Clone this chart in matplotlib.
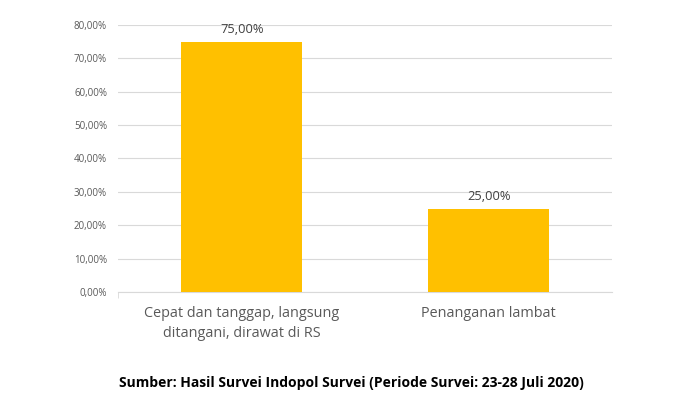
import matplotlib.pyplot as plt
from matplotlib.ticker import FuncFormatter

plt.rcParams['font.family'] = ['Open Sans', 'DejaVu Sans']

categories = ['Cepat dan tanggap, langsung\nditangani, dirawat di RS', 'Penanganan lambat']
values = [75.0, 25.0]
yticks = [0, 10, 20, 30, 40, 50, 60, 70, 80]
source = 'Sumber: Hasil Survei Indopol Survei (Periode Survei: 23-28 Juli 2020)'


def pct(v, pos=None):
    return f'{v:.2f}'.replace('.', ',') + '%'


fig = plt.figure(figsize=(6.99, 4.09), dpi=100)
ax = fig.add_axes([0.169, 0.286, 0.707, 0.653])

x = range(len(categories))
bars = ax.bar(x, values, width=0.49, color='#FFC000', zorder=3)

for b, v in zip(bars, values):
    ax.text(b.get_x() + b.get_width() / 2, v + 1.7, pct(v), ha='center', va='bottom',
            fontsize=9.3, color='#404040')

ax.set_xlim(-0.5, 1.5)
ax.set_ylim(0, 80)
ax.set_yticks(yticks)
ax.yaxis.set_major_formatter(FuncFormatter(pct))
ax.set_xticks(list(x))
ax.set_xticklabels(categories, fontsize=10.4, color='#595959', linespacing=1.45)
ax.tick_params(axis='x', length=0, pad=10)
ax.tick_params(axis='y', length=0, labelsize=7, labelcolor='#595959', pad=8)

# small tick at the left end of the category axis
ax.set_xticks([-0.5], minor=True)
ax.tick_params(axis='x', which='minor', length=4, color='#D9D9D9', direction='out')

ax.grid(axis='y', color='#D9D9D9', linewidth=0.8, zorder=0)
for s in ['top', 'right', 'left']:
    ax.spines[s].set_visible(False)
ax.spines['bottom'].set_color('#D9D9D9')

fig.text(0.503, 0.063, source, ha='center', va='center', fontsize=10, fontweight='bold', color='black')

fig.savefig('out.png', dpi=100)
